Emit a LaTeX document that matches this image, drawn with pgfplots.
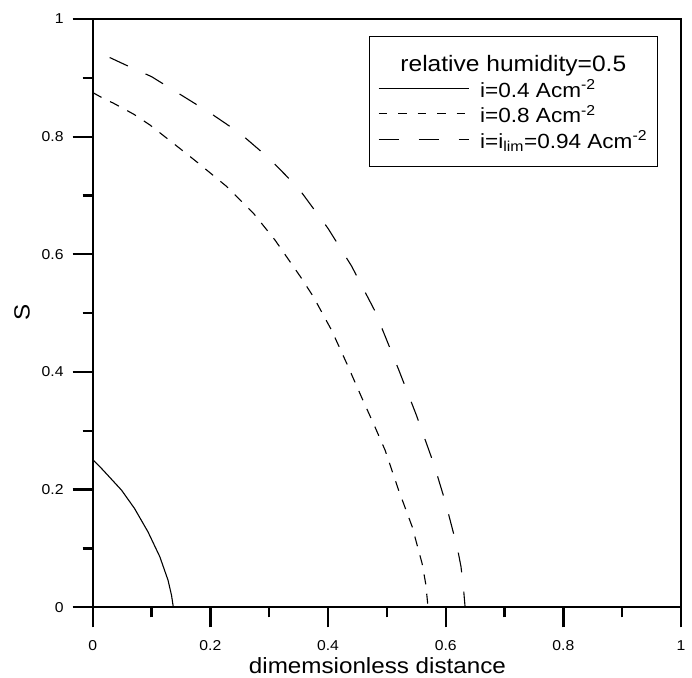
\documentclass[border=0pt]{standalone}
\usepackage{fontspec}
\setmainfont{Liberation Sans}[FakeStretch=1.1]
\usepackage{pgfplots}
\pgfplotsset{compat=1.18}
\begin{document}
\begin{tikzpicture}
\begin{axis}[
  scale only axis, width=588pt, height=588pt,
  xmin=0, xmax=1, ymin=0, ymax=1,
  xtick={0,0.2,0.4,0.6,0.8,1}, ytick={0,0.2,0.4,0.6,0.8,1},
  minor tick num=1,
  tick align=outside, tick pos=left,
  major tick length=20pt, minor tick length=10pt,
  axis line style={line width=2.3pt},
  tick style={line width=2.3pt, black},
  /pgf/number format/assume math mode=true,
  tick label style={font=\fontsize{14.3}{17}\selectfont},
  xticklabel style={yshift=-10pt},
  yticklabel style={xshift=-5.6pt},
  xlabel={dimemsionless distance}, ylabel={S},
  label style={font=\fontsize{22}{26}\selectfont},
  xlabel style={at={(axis description cs:0.484,0)}, anchor=base, yshift=-66pt},
  ylabel style={at={(axis description cs:-0.12,0.502)}, anchor=center},
  legend image code/.code={\draw[#1] (0pt,0pt) -- (90pt,0pt);},
  legend cell align=left,
  legend style={at={(axis description cs:0.9614,0.9716)}, anchor=north east,
    draw=black, line width=1pt, inner xsep=8.7pt, inner ysep=14.7pt, row sep=0pt, column sep=9pt,
    nodes={inner sep=2pt},
    font=\fontsize{20.5}{24}\selectfont},
]
\addplot[forget plot, black, line width=1.1pt] coordinates {
 (0,0.251) (0.013,0.238) (0.026,0.224) (0.049,0.199) (0.071,0.168) (0.094,0.128)
 (0.114,0.086) (0.128,0.046) (0.134,0.020) (0.137,0)};
\addplot[forget plot, black, line width=1.1pt, dash pattern=on 10pt off 9.5pt] coordinates {
 (0,0.875) (0.018,0.865) (0.035,0.857) (0.046,0.851) (0.070,0.838) (0.097,0.820)
 (0.148,0.780) (0.177,0.757) (0.228,0.715) (0.273,0.670) (0.310,0.624)
 (0.353,0.562) (0.375,0.528) (0.406,0.471) (0.432,0.414) (0.457,0.357)
 (0.480,0.306) (0.497,0.267) (0.520,0.199) (0.543,0.137) (0.560,0.074)
 (0.566,0.040) (0.570,0)};
\addplot[forget plot, black, line width=1.1pt, dash pattern=on 20pt off 19.5pt, dash phase=21.3pt] coordinates {
 (0,0.946) (0.03,0.934) (0.06,0.920) (0.10,0.902) (0.15,0.871) (0.20,0.840)
 (0.25,0.806) (0.30,0.763) (0.35,0.712) (0.40,0.644) (0.44,0.580) (0.48,0.503)
 (0.52,0.404) (0.55,0.327) (0.58,0.243) (0.60,0.177) (0.62,0.100) (0.626,0.069)
 (0.630,0.035) (0.633,0)};
\addlegendimage{empty legend}
\addlegendentry{\hspace{-79.7pt}\fontsize{22.3}{26}\selectfont\rule[-4pt]{0pt}{22.9pt}relative humidity=0.5}
\addlegendimage{black, line width=1.1pt}
\addlegendentry{\rule[-8.3pt]{0pt}{28.3pt}i=0.4 Acm\textsuperscript{-2}}
\addlegendimage{black, line width=1.1pt, dash pattern=on 8.5pt off 11pt}
\addlegendentry{\rule[-8.3pt]{0pt}{28.3pt}i=0.8 Acm\textsuperscript{-2}}
\addlegendimage{black, line width=1.1pt, dash pattern=on 20pt off 20pt}
\addlegendentry{\rule[-8.3pt]{0pt}{28.3pt}i=i\textsubscript{lim}=0.94 Acm\textsuperscript{-2}}
\end{axis}
\pgfresetboundingbox
\path ([shift={(-92.7pt,-70pt)}]current axis.south west) rectangle ([shift={(11pt,19pt)}]current axis.north east);
\end{tikzpicture}
\end{document}
